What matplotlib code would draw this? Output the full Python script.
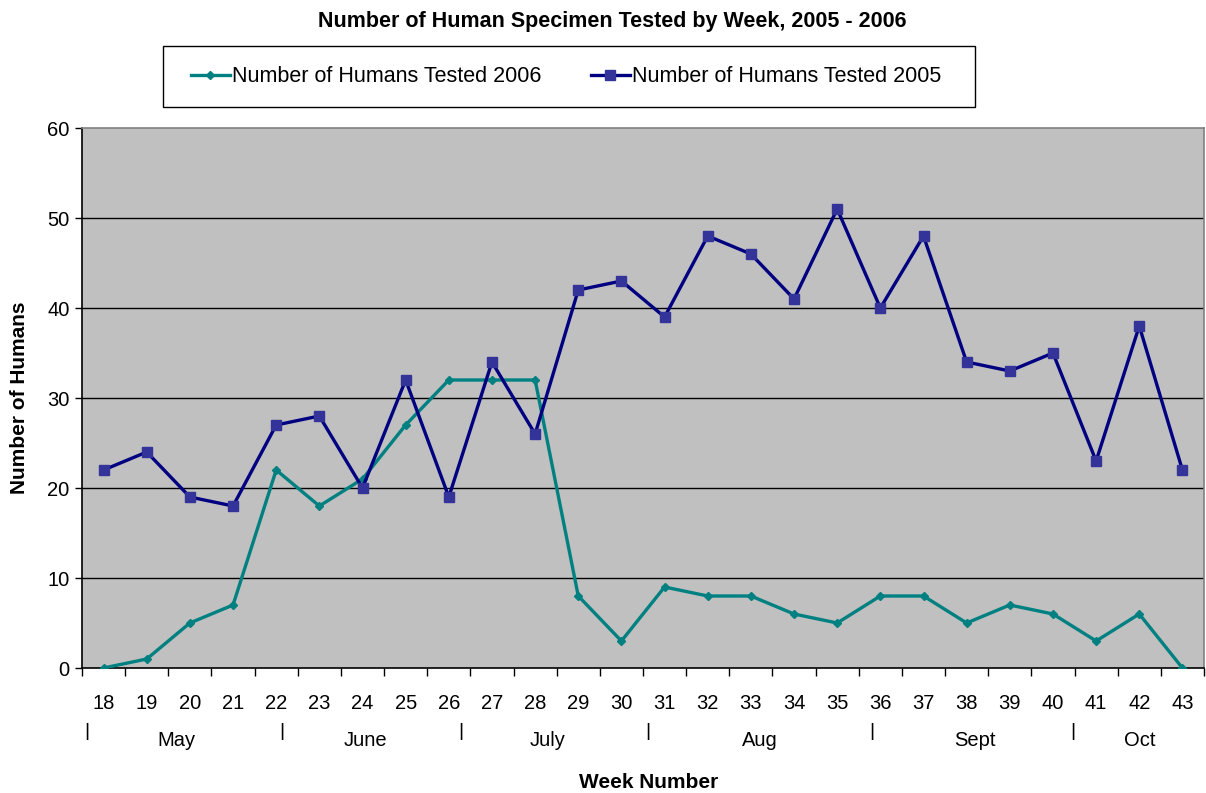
import numpy as np
import matplotlib
matplotlib.use("Agg")
import matplotlib.pyplot as plt
import matplotlib.transforms as mtransforms
from matplotlib.patches import Rectangle

# data
weeks = list(range(18, 44))
tested_2006 = [0, 1, 5, 7, 22, 18, 21, 27, 32, 32, 32, 8, 3, 9, 8, 8, 6, 5, 8, 8, 5, 7, 6, 3, 6, 0]
tested_2005 = [22, 24, 19, 18, 27, 28, 20, 32, 19, 34, 26, 42, 43, 39, 48, 46, 41, 51, 40, 48, 34, 33, 35, 23, 38, 22]
months = ["May", "June", "July", "Aug", "Sept", "Oct"]
month_centers = [1.68, 6.08, 10.28, 15.21, 20.2, 24.02]  # in category index units
month_seps = [-0.38, 4.13, 8.28, 12.62, 17.81, 22.47]

plt.rcParams['font.family'] = ['Liberation Sans', 'DejaVu Sans']

fig = plt.figure(figsize=(12.06, 7.93), dpi=100)
ax = fig.add_axes([82/1206, 1-668/793, (1204-82)/1206, (668-128)/793])
ax.set_facecolor("#C0C0C0")

x = np.arange(len(weeks))
ax.plot(x, tested_2006, color="#008080", lw=2.4, marker="D", ms=4.5,
        mfc="#008080", mec="#008080", label="Number of Humans Tested 2006", zorder=3)
ax.plot(x, tested_2005, color="#000080", lw=2.4, marker="s", ms=7,
        mfc="#333399", mec="#333399", label="Number of Humans Tested 2005", zorder=3)

ax.set_xlim(-0.5, len(weeks) - 0.5)
ax.set_ylim(0, 60)
ax.set_yticks(range(0, 61, 10))
for yv in range(10, 60, 10):
    ax.axhline(yv, color="black", lw=1, zorder=1)

ax.set_xticks(x)
ax.set_xticklabels([str(w) for w in weeks], fontsize=14.5)
ax.set_xticks(np.arange(-0.5, len(weeks), 1), minor=True)
ax.tick_params(axis="x", which="major", length=0, pad=19)
ax.tick_params(axis="x", which="minor", length=6, width=1, direction="out")
ax.tick_params(axis="y", length=5, width=1, direction="out", labelsize=14.5, pad=4)

for s in ["left", "bottom"]:
    ax.spines[s].set_color("black")
    ax.spines[s].set_linewidth(1.2)
for s in ["top", "right"]:
    ax.spines[s].set_color("#808080")
    ax.spines[s].set_linewidth(1.2)

# month row below week numbers
trans = mtransforms.blended_transform_factory(ax.transData, fig.transFigure)
for name, c in zip(months, month_centers):
    ax.text(c, 1-740/793, name, transform=trans, ha="center", va="center", fontsize=14.5)
for s in month_seps:
    ax.text(s, 1-732/793, "|", transform=trans, ha="center", va="center", fontsize=14)

ax.set_ylabel("Number of Humans", fontsize=15, fontweight="bold")
ax.yaxis.set_label_coords(-0.047, 0.5)
fig.text(649/1206, 1-782/793, "Week Number", ha="center", va="center",
         fontsize=15, fontweight="bold")
fig.text(612/1206, 1-22/793, "Number of Human Specimen Tested by Week, 2005 - 2006",
         ha="center", va="center", fontsize=15.5, fontweight="bold")

# legend box
fig.patches.append(Rectangle((163/1206, 1-107/793), (975-163)/1206, 61/793,
                             transform=fig.transFigure, facecolor="white",
                             edgecolor="black", lw=1, zorder=0))
leg = fig.legend(loc="center", ncol=2, fontsize=15.5,
                 bbox_to_anchor=(566/1206, 1-77/793),
                 handlelength=1.8, handletextpad=0.1, columnspacing=2.3,
                 frameon=False)

fig.savefig("out.png", dpi=100)
